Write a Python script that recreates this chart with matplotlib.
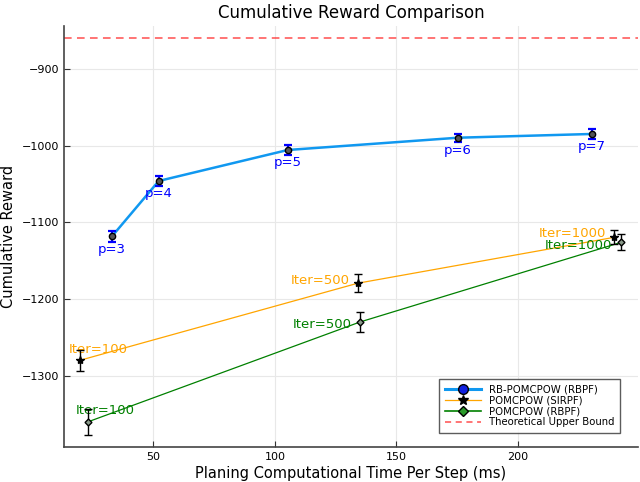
import numpy as np
import matplotlib.pyplot as plt
from matplotlib.lines import Line2D

# RB-POMCPOW (RBPF)
rb_time = [33.0, 52.2, 105.3, 175.3, 230.5]
rb_reward = [-1118, -1046, -1005.6, -989.6, -984.7]
rb_err = [7, 7, 6, 5.5, 6]
rb_labels = ["p=3", "p=4", "p=5", "p=6", "p=7"]

# POMCPOW (SIRPF)
sir_time = [19.7, 134.1, 239.7]
sir_reward = [-1280, -1179.4, -1119.5]
sir_err = [13.7, 12, 9]

# POMCPOW (RBPF)
rbpf_time = [22.9, 135.1, 242.6]
rbpf_reward = [-1360.4, -1229.9, -1126]
rbpf_err = [16.5, 12.6, 10.6]

iter_labels = ["Iter=100", "Iter=500", "Iter=1000"]
sir_label_pos = [(27.1, -1265.6), (118.6, -1176), (222.3, -1115.1)]
rbpf_label_pos = [(30.3, -1346), (119.4, -1232.9), (225.0, -1130.8)]

upper_bound = -860

fig = plt.figure(figsize=(6.4, 4.82), dpi=100)
ax = fig.add_axes([0.1, 0.0733, 0.897, 0.8727])

blue = "#1098f0"
orange = "#ffa500"
green = "#008000"

# lines
ax.plot(rb_time, rb_reward, color=blue, lw=1.8, label="RB-POMCPOW (RBPF)", zorder=3)
ax.plot(sir_time, sir_reward, color=orange, lw=0.9, label="POMCPOW (SIRPF)", zorder=3)
ax.plot(rbpf_time, rbpf_reward, color=green, lw=0.9, label="POMCPOW (RBPF)", zorder=3)
ax.axhline(upper_bound, color="#ff3030", lw=1.1, ls=(0, (5, 3.5)), alpha=0.85,
           label="Theoretical Upper Bound")

# error bars with markers
ax.errorbar(rb_time, rb_reward, yerr=rb_err, fmt="o", ms=4.5, mfc="#555555",
            mec="black", ecolor="blue", elinewidth=1.6, capsize=3, capthick=1.6,
            zorder=4)
ax.errorbar(sir_time, sir_reward, yerr=sir_err, fmt="*", ms=6, mfc="black",
            mec="black", ecolor="black", elinewidth=1.0, capsize=2.6,
            capthick=1.0, zorder=4)
ax.errorbar(rbpf_time, rbpf_reward, yerr=rbpf_err, fmt="D", ms=3.5,
            mfc="#8a9a8a", mec="black", ecolor="black", elinewidth=1.0,
            capsize=2.6, capthick=1.0, zorder=4)

# annotations
for x, y, s in zip(rb_time, rb_reward, rb_labels):
    ax.annotate(s, (x, y), xytext=(0, -13), textcoords="offset pixels",
                ha="center", va="center", color="blue", fontsize=9.5)
for (x, y), s in zip(sir_label_pos, iter_labels):
    ax.text(x, y, s, ha="center", va="center", color=orange, fontsize=9.5)
for (x, y), s in zip(rbpf_label_pos, iter_labels):
    ax.text(x, y, s, ha="center", va="center", color=green, fontsize=9.5)

# legend with line+marker handles
labels = ["RB-POMCPOW (RBPF)", "POMCPOW (SIRPF)", "POMCPOW (RBPF)",
          "Theoretical Upper Bound"]
leg_handles = [
    Line2D([], [], color=blue, lw=2.2, marker="o", ms=7, mfc="#1020e0", mec="black"),
    Line2D([], [], color=orange, lw=0.9, marker="*", ms=7, mfc="black", mec="black"),
    Line2D([], [], color=green, lw=1.2, marker="D", ms=5, mfc="#2a9a2a", mec="black"),
    Line2D([], [], color="#ff3030", lw=1.1, ls=(0, (4, 3)), alpha=0.85),
]
leg = ax.legend(leg_handles, labels, loc="lower right", fontsize=7.3,
                frameon=True, fancybox=False, edgecolor="#333333",
                borderpad=0.55, labelspacing=0.1, handlelength=3.6,
                handletextpad=0.8, bbox_to_anchor=(0.978, 0.021))
leg.get_frame().set_linewidth(1.0)

ax.set_xlim(13.2, 249.5)
ax.set_ylim(-1392.6, -843.9)
ax.set_xticks([50, 100, 150, 200])
ax.set_yticks([-1300, -1200, -1100, -1000, -900])

ax.grid(True, color="#e8e8e8", lw=0.8)
ax.set_axisbelow(True)
for side in ["top", "right"]:
    ax.spines[side].set_visible(False)
for side in ["left", "bottom"]:
    ax.spines[side].set_color("#444444")
    ax.spines[side].set_linewidth(1.2)
ax.tick_params(direction="in", length=4, labelsize=8, color="#333333")

ax.set_title("Cumulative Reward Comparison", fontsize=12, pad=6)
ax.set_xlabel("Planing Computational Time Per Step (ms)", fontsize=10.5, labelpad=3)
ax.set_ylabel("Cumulative Reward", fontsize=10.5, labelpad=4)

fig.savefig("out.png", dpi=100)
